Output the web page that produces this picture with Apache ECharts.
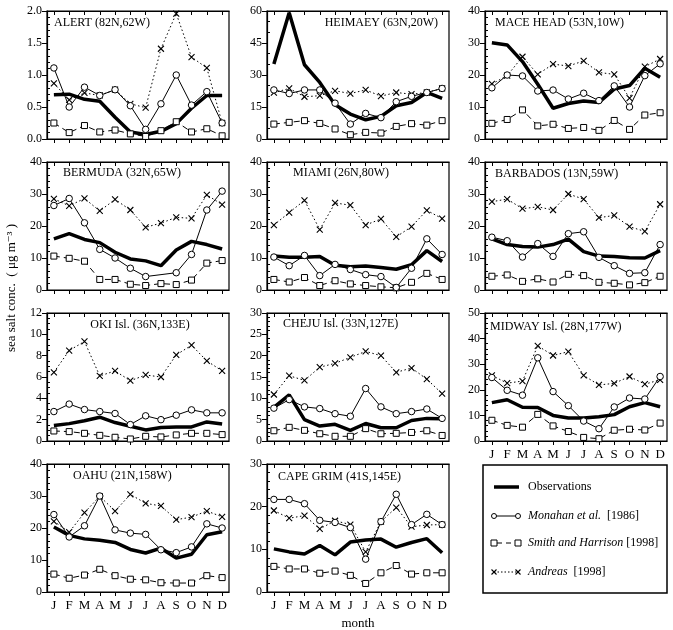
<!DOCTYPE html>
<html>
<head>
<meta charset="utf-8">
<script src="https://cdn.jsdelivr.net/npm/echarts@6/dist/echarts.min.js"></script>
<style>
html,body{margin:0;padding:0;background:#fff;}
#chart{width:673px;height:630px;}
</style>
</head>
<body>
<div id="chart"></div>
<script>
// 月份
var months = ['J','F','M','A','M','J','J','A','S','O','N','D'];
var monthIdx = [1,2,3,4,5,6,7,8,9,10,11,12];

// 各站点数据: obs / Monahan / Smith and Harrison / Andreas
var alertObs = [0.69,0.70,0.62,0.59,0.34,0.11,0.07,0.12,0.24,0.48,0.68,0.68];
var alertMon = [1.11,0.50,0.81,0.68,0.77,0.52,0.15,0.55,1.00,0.53,0.74,0.25];
var alertSH  = [0.25,0.10,0.21,0.11,0.14,0.08,0.04,0.13,0.27,0.11,0.16,0.05];
var alertAn  = [0.87,0.61,0.72,0.68,0.77,0.55,0.49,1.41,1.96,1.28,1.11,0.25];

var heimaeyObs = [35.1,59.2,34.8,26.5,16.0,11.7,9.0,10.6,15.6,17.1,21.8,19.0];
var heimaeyMon = [23.0,21.3,23.0,23.0,16.8,7.0,12.0,10.0,17.5,20.0,21.8,23.7];
var heimaeySH  = [7.0,7.8,8.6,7.3,4.7,2.0,3.1,2.8,5.9,7.2,6.5,8.6];
var heimaeyAn  = [21.7,23.7,19.8,20.3,22.6,21.3,23.0,20.1,21.8,21.0,21.8,23.7];

var maceObs = [30.1,29.4,24.2,17.1,9.6,11.1,11.9,11.4,15.6,16.7,22.1,19.3];
var maceMon = [16.0,20.0,19.7,15.0,15.3,12.5,14.3,12.0,16.6,10.0,19.8,23.5];
var maceSH  = [4.9,6.1,9.1,4.1,4.6,3.3,3.6,2.7,5.8,3.0,7.5,8.2];
var maceAn  = [17.2,19.8,25.7,20.2,23.4,22.8,24.4,20.8,20.2,12.8,22.6,25.0];

var bermudaObs = [16.0,17.6,15.8,14.8,11.8,9.7,9.1,7.6,12.5,15.2,14.2,12.8];
var bermudaMon = [26.4,28.6,21.0,12.7,10.0,6.8,4.2,null,5.4,11.1,25.0,30.9];
var bermudaSH  = [10.6,9.9,9.0,3.3,3.3,1.8,1.4,2.0,1.7,3.1,8.4,9.2];
var bermudaAn  = [28.5,26.3,28.6,24.7,28.3,25.0,19.6,20.9,22.7,22.4,29.7,26.7];

var miamiObs = [10.6,10.2,10.2,10.5,7.7,7.3,7.5,7.0,6.5,7.9,12.3,8.9];
var miamiMon = [10.3,7.6,10.8,4.5,8.0,6.4,4.8,4.2,0.8,6.8,16.0,11.1];
var miamiSH  = [3.3,2.5,3.9,1.4,2.9,1.9,1.4,1.0,0.7,2.4,5.2,3.3];
var miamiAn  = [20.3,24.2,28.0,18.9,27.2,26.5,20.3,22.2,16.6,19.8,24.9,22.3];

var barbadosObs = [16.0,14.2,13.6,13.4,14.2,15.9,12.0,10.6,10.5,10.1,10.0,12.3];
var barbadosMon = [16.5,15.4,10.3,14.5,10.5,17.6,18.2,10.2,7.6,5.2,5.4,14.2];
var barbadosSH  = [4.3,4.7,2.7,3.5,2.5,4.9,4.5,2.4,2.1,1.6,2.3,4.3];
var barbadosAn  = [27.6,28.4,25.4,26.0,25.0,30.0,28.4,22.6,23.3,19.8,18.3,26.8];

var okiObs = [1.45,1.63,1.90,2.23,1.73,1.38,1.04,1.26,1.32,1.32,1.79,1.60];
var okiMon = [2.76,3.46,2.95,2.76,2.58,1.54,2.36,2.00,2.42,2.92,2.64,2.64];
var okiSH  = [0.94,0.88,0.72,0.53,0.35,0.19,0.44,0.38,0.57,0.72,0.72,0.60];
var okiAn  = [6.44,8.48,9.33,6.10,6.57,5.65,6.19,6.00,8.07,8.98,7.51,6.57];

var chejuObs = [7.9,10.8,5.0,3.5,3.9,2.5,4.1,3.1,3.1,4.8,5.3,5.2];
var chejuMon = [7.7,9.7,8.0,7.6,6.4,5.8,12.3,8.0,6.4,6.9,7.5,5.3];
var chejuSH  = [2.4,3.2,2.5,1.7,1.1,1.1,2.9,1.7,1.8,2.0,2.4,1.3];
var chejuAn  = [10.9,15.3,14.2,17.3,18.2,19.6,21.0,20.0,16.1,17.1,14.5,11.1];

var midwayObs = [15.0,16.1,13.2,13.1,10.0,9.0,9.0,9.5,10.3,13.4,15.0,13.4];
var midwayMon = [24.8,19.8,17.9,32.5,19.3,13.8,7.8,4.8,13.3,16.8,16.4,25.2];
var midwaySH  = [8.1,6.1,5.4,10.4,5.9,3.7,1.4,0.9,4.2,4.6,4.3,7.0];
var midwayAn  = [25.6,22.6,23.4,37.2,33.4,34.9,25.6,21.9,22.5,25.2,22.2,23.9];

var oahuObs = [20.3,17.7,16.6,16.2,15.5,13.3,12.2,13.7,10.6,11.8,17.9,18.8];
var oahuMon = [24.2,17.2,20.7,30.0,19.4,18.4,18.0,13.2,12.3,14.1,21.3,20.0];
var oahuSH  = [5.6,4.3,5.3,7.1,5.1,4.0,3.8,2.9,2.8,2.8,5.1,4.5];
var oahuAn  = [22.1,18.7,24.8,29.9,25.3,30.5,27.7,26.9,22.6,23.4,25.3,23.5];

var capeObs = [10.1,9.4,8.9,10.9,8.7,11.7,12.2,12.4,10.5,11.6,12.5,9.2];
var capeMon = [21.7,21.7,20.7,16.8,16.3,15.1,7.7,16.5,22.9,15.8,18.2,15.8];
var capeSH  = [6.0,5.4,5.4,4.4,4.9,3.9,2.0,4.5,6.2,4.2,4.5,4.5];
var capeAn  = [19.1,17.3,17.9,14.8,16.7,15.8,9.4,16.5,19.8,15.3,15.7,15.8];

var serif = '"Liberation Serif", "DejaVu Serif", serif';
var colLeft = [47, 267, 485];
var rowTop = [11, 162, 313, 464];
var plotW = 182, plotH = 128;

// 面板配置
var panels = [
    {name:'ALERT (82N,62W)', obs:alertObs, mon:alertMon, sh:alertSH, an:alertAn, max:2, step:0.5, minor:5, col:0, row:0, tx:54, ty:23, align:'left'},
    {name:'HEIMAEY (63N,20W)', obs:heimaeyObs, mon:heimaeyMon, sh:heimaeySH, an:heimaeyAn, max:60, step:15, minor:3, col:1, row:0, tx:438, ty:23, align:'right'},
    {name:'MACE HEAD (53N,10W)', obs:maceObs, mon:maceMon, sh:maceSH, an:maceAn, max:40, step:10, minor:5, col:2, row:0, tx:495, ty:23, align:'left'},
    {name:'BERMUDA (32N,65W)', obs:bermudaObs, mon:bermudaMon, sh:bermudaSH, an:bermudaAn, max:40, step:10, minor:5, col:0, row:1, tx:63, ty:173, align:'left'},
    {name:'MIAMI (26N,80W)', obs:miamiObs, mon:miamiMon, sh:miamiSH, an:miamiAn, max:40, step:10, minor:5, col:1, row:1, tx:293, ty:173, align:'left'},
    {name:'BARBADOS (13N,59W)', obs:barbadosObs, mon:barbadosMon, sh:barbadosSH, an:barbadosAn, max:40, step:10, minor:5, col:2, row:1, tx:495, ty:174, align:'left'},
    {name:'OKI Isl. (36N,133E)', obs:okiObs, mon:okiMon, sh:okiSH, an:okiAn, max:12, step:2, minor:4, col:0, row:2, tx:140, ty:325, align:'center'},
    {name:'CHEJU Isl. (33N,127E)', obs:chejuObs, mon:chejuMon, sh:chejuSH, an:chejuAn, max:30, step:5, minor:5, col:1, row:2, tx:283, ty:324, align:'left'},
    {name:'MIDWAY Isl. (28N,177W)', obs:midwayObs, mon:midwayMon, sh:midwaySH, an:midwayAn, max:50, step:10, minor:5, col:2, row:2, tx:490, ty:327, align:'left', labels:true},
    {name:'OAHU (21N,158W)', obs:oahuObs, mon:oahuMon, sh:oahuSH, an:oahuAn, max:40, step:10, minor:5, col:0, row:3, tx:73, ty:476, align:'left', labels:true},
    {name:'CAPE GRIM (41S,145E)', obs:capeObs, mon:capeMon, sh:capeSH, an:capeAn, max:30, step:10, minor:5, col:1, row:3, tx:278, ty:477, align:'left', labels:true}
];

var xSymbol = 'path://M0,0L10,10M10,0L0,10';
var blackLine = {color:'#000', width:1.2};

function toPairs(arr) {
    return arr.map(function (v, k) { return [k + 1, v]; });
}

var grids = [], xAxes = [], yAxes = [], series = [], graphics = [];

panels.forEach(function (p, i) {
    grids.push({
        left: colLeft[p.col], top: rowTop[p.row], width: plotW, height: plotH,
        show: true, borderColor: '#000', borderWidth: 1.2
    });
    // 下方月份轴
    xAxes.push({
        gridIndex: i, type: 'value', min: 0.55, max: 12.45, position: 'bottom',
        axisLine: {show: true, onZero: false, lineStyle: blackLine},
        axisTick: {show: true, customValues: monthIdx, length: 4, lineStyle: {color: '#000'}},
        axisLabel: {
            show: !!p.labels, customValues: monthIdx,
            formatter: function (v) { return months[Math.round(v) - 1]; },
            fontFamily: serif, fontSize: 13, color: '#000', margin: 7
        },
        splitLine: {show: false}
    });
    // 上方刻度
    xAxes.push({
        gridIndex: i, type: 'value', min: 0.55, max: 12.45, position: 'top',
        axisLine: {show: true, onZero: false, lineStyle: blackLine},
        axisTick: {show: true, inside: true, customValues: monthIdx, length: 4, lineStyle: {color: '#000'}},
        axisLabel: {show: false},
        splitLine: {show: false}
    });
    yAxes.push({
        gridIndex: i, type: 'value', min: 0, max: p.max, interval: p.step, position: 'left',
        axisLine: {show: true, lineStyle: blackLine},
        axisTick: {show: true, length: 5, lineStyle: {color: '#000'}},
        axisLabel: {
            formatter: function (v) { return p.step < 1 ? v.toFixed(1) : String(v); },
            fontFamily: serif, fontSize: 12, color: '#000', margin: 5
        },
        splitLine: {show: false}
    });
    // 次刻度（朝内）
    yAxes.push({
        gridIndex: i, type: 'value', min: 0, max: p.max, interval: p.step, position: 'left',
        axisLine: {show: false},
        axisTick: {show: false, inside: true},
        minorTick: {show: true, splitNumber: p.minor, length: 3, lineStyle: {color: '#000'}},
        axisLabel: {show: false},
        splitLine: {show: false}
    });

    var xi = i * 2, yi = i * 2;
    series.push({
        name: 'Andreas', type: 'line', xAxisIndex: xi, yAxisIndex: yi,
        data: toPairs(p.an), symbol: xSymbol, symbolSize: 6,
        itemStyle: {color: '#000', borderColor: '#000', borderWidth: 1.1},
        lineStyle: {color: '#000', width: 1, type: [1.5, 2.5]}
    });
    series.push({
        name: 'Smith and Harrison', type: 'line', xAxisIndex: xi, yAxisIndex: yi,
        data: toPairs(p.sh), symbol: 'rect', symbolSize: 6,
        itemStyle: {color: '#fff', borderColor: '#000', borderWidth: 1},
        lineStyle: {color: '#000', width: 1, type: [6, 4]}
    });
    series.push({
        name: 'Monahan', type: 'line', xAxisIndex: xi, yAxisIndex: yi,
        data: toPairs(p.mon), symbol: 'circle', symbolSize: 6.5, connectNulls: true,
        itemStyle: {color: '#fff', borderColor: '#000', borderWidth: 1},
        lineStyle: {color: '#000', width: 1}
    });
    series.push({
        name: 'Observations', type: 'line', xAxisIndex: xi, yAxisIndex: yi,
        data: toPairs(p.obs), symbol: 'none',
        lineStyle: {color: '#000', width: 3.5}
    });

    graphics.push({
        type: 'text', x: p.tx, y: p.ty, z: 10,
        style: {text: p.name, fill: '#000', font: '12px ' + serif, textAlign: p.align, textVerticalAlign: 'middle'}
    });
});

// 纵轴标题、横轴标题
graphics.push({
    type: 'text', x: 12, y: 288, rotation: Math.PI / 2,
    style: {text: 'sea salt conc.  ( \u03bcg m\u207b\u00b3 )', fill: '#000', font: '13px ' + serif, textAlign: 'center', textVerticalAlign: 'middle'}
});
graphics.push({
    type: 'text', x: 358, y: 624,
    style: {text: 'month', fill: '#000', font: '13px ' + serif, textAlign: 'center', textVerticalAlign: 'middle'}
});

// 图例框
var lgX1 = 494, lgX2 = 518, lgText = 528;
var lgY = [487, 516, 543, 572];
graphics.push({type: 'rect', shape: {x: 483, y: 465, width: 184, height: 128}, style: {fill: 'none', stroke: '#000', lineWidth: 1.5}});
graphics.push({type: 'line', shape: {x1: lgX1, y1: lgY[0], x2: lgX2 + 1, y2: lgY[0]}, style: {stroke: '#000', lineWidth: 3.5}});
graphics.push({type: 'line', shape: {x1: lgX1, y1: lgY[1], x2: lgX2, y2: lgY[1]}, style: {stroke: '#000', lineWidth: 1}});
graphics.push({type: 'circle', shape: {cx: lgX1, cy: lgY[1], r: 2.5}, style: {fill: '#fff', stroke: '#000', lineWidth: 1}});
graphics.push({type: 'circle', shape: {cx: lgX2, cy: lgY[1], r: 2.5}, style: {fill: '#fff', stroke: '#000', lineWidth: 1}});
graphics.push({type: 'line', shape: {x1: lgX1 + 3, y1: lgY[2], x2: lgX2 - 3, y2: lgY[2]}, style: {stroke: '#000', lineWidth: 1, lineDash: [5, 4]}});
graphics.push({type: 'rect', shape: {x: lgX1 - 3, y: lgY[2] - 3, width: 6, height: 6}, style: {fill: '#fff', stroke: '#000', lineWidth: 1}});
graphics.push({type: 'rect', shape: {x: lgX2 - 3, y: lgY[2] - 3, width: 6, height: 6}, style: {fill: '#fff', stroke: '#000', lineWidth: 1}});
graphics.push({type: 'line', shape: {x1: lgX1, y1: lgY[3], x2: lgX2, y2: lgY[3]}, style: {stroke: '#000', lineWidth: 1, lineDash: [1.5, 2]}});
[lgX1, lgX2].forEach(function (cx) {
    graphics.push({type: 'line', shape: {x1: cx - 2.5, y1: lgY[3] - 2.5, x2: cx + 2.5, y2: lgY[3] + 2.5}, style: {stroke: '#000', lineWidth: 1.1}});
    graphics.push({type: 'line', shape: {x1: cx - 2.5, y1: lgY[3] + 2.5, x2: cx + 2.5, y2: lgY[3] - 2.5}, style: {stroke: '#000', lineWidth: 1.1}});
});
var lgLabels = ['Observations', '{i|Monahan et al.}  [1986]', '{i|Smith and Harrison} [1998]', '{i|Andreas}  [1998]'];
lgLabels.forEach(function (t, k) {
    graphics.push({
        type: 'text', x: lgText, y: lgY[k],
        style: {
            text: t, fill: '#000', font: '12px ' + serif, textAlign: 'left', textVerticalAlign: 'middle',
            rich: {i: {fontStyle: 'italic', fontFamily: serif, fontSize: 12, fill: '#000'}}
        }
    });
});

var chart = echarts.init(document.getElementById('chart'));
chart.setOption({
    animation: false,
    backgroundColor: '#fff',
    grid: grids,
    xAxis: xAxes,
    yAxis: yAxes,
    series: series,
    graphic: graphics
});
window.addEventListener('resize', function () {
    chart.resize();
});
</script>
</body>
</html>
